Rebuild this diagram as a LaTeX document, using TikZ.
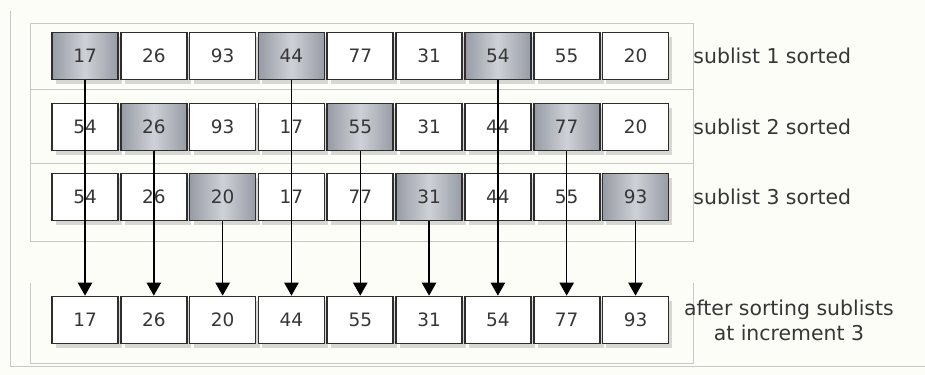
\documentclass[tikz,border=0pt]{standalone}
\usepackage{fontspec}
\setmainfont{DejaVu Sans}
\usepackage{xcolor}
\usepackage{tikz}
\usetikzlibrary{arrows.meta, shadows}
\definecolor{PageBg}{HTML}{FDFDF8}
\definecolor{BoxEdge}{HTML}{2E2E2E}
\definecolor{CellText}{HTML}{363636}
\definecolor{ShadeDark}{HTML}{979BA4}
\definecolor{ShadeLight}{HTML}{CED1D7}
\definecolor{FrameGrey}{HTML}{C8C8C8}

\begin{document}
\begin{tikzpicture}[
  >={Triangle[width=11pt,length=10pt]},
  cell/.style={draw=BoxEdge, line width=1.3pt, fill=white, inner sep=0pt,
               minimum width=1.76cm, minimum height=1.25cm,
               font=\fontsize{14}{16}\selectfont, text=CellText,
               drop shadow={shadow xshift=3pt, shadow yshift=-3.5pt, opacity=0.3}},
  hot/.style={cell, left color=ShadeDark, right color=ShadeDark, middle color=ShadeLight},
  conn/.style={->, line width=1.1pt, color=black},
  frame/.style={draw=FrameGrey, line width=0.6pt},
  lbl/.style={font=\fontsize{15.5}{19}\selectfont, text=CellText, align=center, inner sep=1pt},
]
  \useasboundingbox[fill=PageBg] (0,0) rectangle (24.667,10);

  % page edge and frames
  \draw[frame] (0.267,9.7) -- (0.267,0.24) -- (24.667,0.24);
  \draw[frame] (0.8,9.387) rectangle (18.48,3.573);
  \draw[frame] (0.8,7.627) -- (18.48,7.627);
  \draw[frame] (0.8,5.653) -- (18.48,5.653);
  \draw[frame] (0.8,2.453) -- (0.8,0.32) -- (18.48,0.32) -- (18.48,2.453);

  % sublist 1
  \foreach \i/\v/\st in {1/17/hot, 2/26/cell, 3/93/cell, 4/44/hot, 5/77/cell,
                         6/31/cell, 7/54/hot, 8/55/cell, 9/20/cell}
    \node[\st] (r1c\i) at ({2.267+1.835*(\i-1)}, 8.507) {\v};

  % sublist 2
  \foreach \i/\v/\st in {1/54/cell, 2/26/hot, 3/93/cell, 4/17/cell, 5/55/hot,
                         6/31/cell, 7/44/cell, 8/77/hot, 9/20/cell}
    \node[\st] (r2c\i) at ({2.267+1.835*(\i-1)}, 6.613) {\v};

  % sublist 3
  \foreach \i/\v/\st in {1/54/cell, 2/26/cell, 3/20/hot, 4/17/cell, 5/77/cell,
                         6/31/hot, 7/44/cell, 8/55/cell, 9/93/hot}
    \node[\st] (r3c\i) at ({2.267+1.835*(\i-1)}, 4.747) {\v};

  % result after increment 3
  \foreach \i/\v in {1/17, 2/26, 3/20, 4/44, 5/55, 6/31, 7/54, 8/77, 9/93}
    \node[cell] (r4c\i) at ({2.267+1.835*(\i-1)}, 1.467) {\v};

  %% sorted items drop to the result row
  \foreach \i/\r in {1/1, 2/2, 3/3, 4/1, 5/2, 6/3, 7/1, 8/2, 9/3}
    \draw[conn] (r\r c\i.south) -- (r4c\i.north);

  % labels
  \node[lbl, anchor=west] (lab1) at ([xshift=0.6cm]r1c9.east) {sublist 1 sorted};
  \node[lbl, anchor=west] (lab2) at ([xshift=0.6cm]r2c9.east) {sublist 2 sorted};
  \node[lbl, anchor=west] (lab3) at ([xshift=0.6cm]r3c9.east) {sublist 3 sorted};
  \node[lbl, anchor=west] (lab4) at ([xshift=0.35cm]r4c9.east)
    {after sorting sublists\\at increment 3};

\end{tikzpicture}
\end{document}
